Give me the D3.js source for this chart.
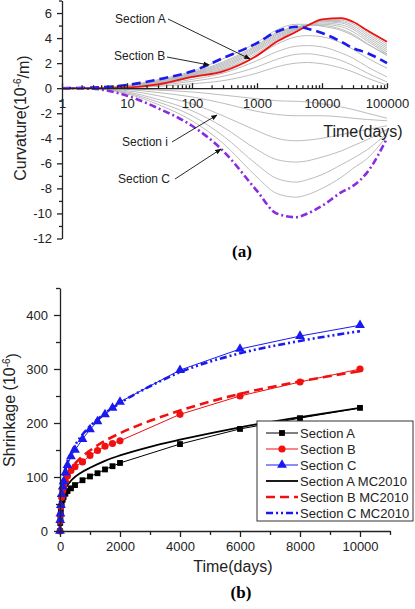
<!DOCTYPE html>
<html>
<head>
<meta charset="utf-8">
<script src="https://cdn.jsdelivr.net/npm/d3@7"></script>
<style>
body { margin: 0; background: #fff; }
svg { display: block; font-family: "Liberation Sans", Arial, sans-serif; }
.axis text { font-size: 13px; fill: #222; }
.axis path, .axis line { stroke: #222; stroke-width: 1.3px; }
</style>
</head>
<body>
<svg id="chart"></svg>
<script>
// ---- (a) curvature vs time, log x ----
var curvT = [1, 3, 10, 30, 100, 300, 1000, 2000, 4000, 6000, 10000, 20000, 30000, 50000, 100000];
var curvA = [0, 0, 0.05, 0.3, 0.9, 1.35, 2.6, 3.7, 4.5, 5.0, 5.5, 5.6, 5.3, 4.6, 3.7];
var curvB = [0, 0.05, 0.25, 0.7, 1.35, 2.4, 3.6, 4.5, 4.9, 4.75, 4.4, 3.7, 3.2, 2.8, 2.0];
var curvC = [0, -0.05, -0.6, -1.6, -3.0, -5.0, -8.2, -10.0, -10.3, -10.0, -9.4, -8.3, -7.8, -6.7, -4.0];
// intermediate sections (grey)
var curvI = [
  [0, 0, 0.06, 0.33, 0.95, 1.5, 2.8, 3.85, 4.6, 5.05, 5.45, 5.5, 5.3, 4.5, 3.5],
  [0, 0.01, 0.08, 0.38, 1.0, 1.6, 2.95, 3.95, 4.65, 5.05, 5.4, 5.4, 5.15, 4.35, 3.35],
  [0, 0.01, 0.1, 0.42, 1.05, 1.7, 3.05, 4.05, 4.7, 5.05, 5.35, 5.3, 5.0, 4.2, 3.2],
  [0, 0.02, 0.12, 0.46, 1.1, 1.8, 3.15, 4.15, 4.75, 5.05, 5.3, 5.2, 4.85, 4.05, 3.05],
  [0, 0.02, 0.14, 0.5, 1.15, 1.9, 3.25, 4.25, 4.8, 5.05, 5.2, 5.05, 4.7, 3.9, 2.9],
  [0, 0.03, 0.16, 0.55, 1.2, 2.0, 3.35, 4.35, 4.85, 5.05, 5.1, 4.9, 4.5, 3.75, 2.75],
  [0, 0.03, 0.18, 0.6, 1.25, 2.1, 3.45, 4.45, 4.9, 5.0, 5.0, 4.7, 4.3, 3.55, 2.6],
  [0, 0.04, 0.22, 0.68, 1.35, 2.35, 3.65, 4.65, 5.1, 5.1, 4.95, 4.6, 4.2, 3.5, 2.7],
  [0, 0.02, 0.1, 0.35, 0.85, 1.45, 2.6, 3.5, 4.1, 4.2, 4.1, 3.6, 3.1, 2.4, 1.6],
  [0, 0.02, 0.08, 0.3, 0.7, 1.2, 2.2, 2.9, 3.35, 3.4, 3.3, 2.8, 2.4, 1.7, 0.9],
  [0, 0.01, 0.06, 0.22, 0.55, 0.95, 1.7, 2.3, 2.7, 2.75, 2.6, 2.2, 1.8, 1.2, 0.5],
  [0, 0.01, 0.04, 0.15, 0.35, 0.6, 1.2, 1.7, 2.0, 2.05, 1.95, 1.6, 1.3, 0.8, 0.25],
  [0, -0.04, -0.45, -1.3, -2.6, -4.4, -7.1, -8.4, -8.7, -8.5, -8.0, -7.1, -6.4, -5.6, -3.8],
  [0, -0.03, -0.38, -1.1, -2.2, -3.8, -6.1, -7.2, -7.5, -7.3, -6.9, -6.1, -5.6, -4.9, -3.6],
  [0, -0.03, -0.3, -0.9, -1.8, -3.1, -4.9, -5.7, -5.9, -5.8, -5.5, -5.0, -4.6, -4.1, -3.3],
  [0, -0.02, -0.2, -0.6, -1.25, -2.2, -3.4, -4.0, -4.2, -4.15, -4.0, -3.7, -3.5, -3.3, -3.0],
  [0, -0.01, -0.1, -0.35, -0.7, -1.2, -1.85, -2.1, -2.2, -2.2, -2.2, -2.3, -2.4, -2.5, -2.6],
  [0, 0, -0.05, -0.15, -0.3, -0.55, -0.85, -1.0, -1.05, -1.1, -1.25, -1.5, -1.7, -2.0, -2.4]
];
var curvXTicks = [1, 10, 100, 1000, 10000, 100000];
var curvYTicks = [-12, -10, -8, -6, -4, -2, 0, 2, 4, 6];

// ---- (b) shrinkage vs time ----
var shrT = [0, 7, 14, 28, 56, 90, 120, 180, 250, 365, 500, 750, 1000, 1250, 1500, 1750, 2000, 4000, 6000, 8000, 10000];
var shrA = [0, 15, 24, 36, 50, 58, 63, 69, 74, 79, 85, 94, 101, 107, 114, 120, 126, 161, 189, 209, 228];
var shrB = [0, 18, 30, 45, 62, 74, 82, 92, 102, 112, 119, 128, 140, 149, 157, 162, 167, 216, 250, 276, 300];
var shrC = [0, 20, 32, 48, 68, 82, 92, 108, 122, 138, 150, 170, 188, 203, 216, 228, 239, 298, 337, 361, 381];
var mcT = [0, 3, 7, 14, 28, 56, 100, 200, 400, 700, 1000, 1500, 2000, 3000, 4000, 6000, 8000, 10000];
var mcA = [0, 12, 20, 29, 40, 53, 65, 80, 95, 108, 117, 130, 140, 156, 169, 192, 211, 228];
var mcB = [0, 14, 24, 34, 46, 62, 76, 96, 117, 136, 149, 167, 181, 204, 223, 254, 277, 296];
var mcC = [0, 18, 30, 43, 58, 76, 95, 120, 148, 175, 194, 218, 237, 268, 294, 329, 352, 370];
var legendLabels = ["Section A", "Section B", "Section C", "Section A MC2010", "Section B MC2010", "Section C MC2010"];

var width = 415, height = 609;
var svg = d3.select("#chart").attr("width", width).attr("height", height);

var defs = svg.append("defs");
defs.append("marker")
  .attr("id", "arrow")
  .attr("viewBox", "0 0 10 10")
  .attr("refX", 9).attr("refY", 5)
  .attr("markerWidth", 7).attr("markerHeight", 7)
  .attr("orient", "auto")
  .append("path")
  .attr("d", "M0,1 L10,5 L0,9 z")
  .attr("fill", "#111");

function zip(t, v) {
  return t.map(function(d, i) { return [d, v[i]]; });
}

// ================= (a) =================
var xa = d3.scaleLog().domain([1, 100000]).range([62, 387]);
var ya = d3.scaleLinear().domain([-12, 7]).range([238.5, 0.5]);
var lineA = d3.line()
  .x(function(d) { return xa(d[0]); })
  .y(function(d) { return ya(d[1]); })
  .curve(d3.curveMonotoneX);

var ga = svg.append("g");
ga.selectAll("path.grey")
  .data(curvI)
  .enter().append("path")
  .attr("class", "grey")
  .attr("d", function(v) { return lineA(zip(curvT, v)); })
  .attr("fill", "none")
  .attr("stroke", "#b4b4b4")
  .attr("stroke-width", 0.9);

ga.append("path")
  .attr("d", lineA(zip(curvA, curvA).map(function(d, i) { return [curvT[i], curvA[i]]; })))
  .attr("fill", "none").attr("stroke", "#f01010").attr("stroke-width", 1.8);
ga.append("path")
  .attr("d", lineA(zip(curvT, curvB)))
  .attr("fill", "none").attr("stroke", "#1a1aee").attr("stroke-width", 2.6)
  .attr("stroke-dasharray", "9,5");
ga.append("path")
  .attr("d", lineA(zip(curvT, curvC)))
  .attr("fill", "none").attr("stroke", "#8a2be2").attr("stroke-width", 2.6)
  .attr("stroke-dasharray", "7,3,2,3");

// axes (a)
var minorLog = xa.ticks().filter(function(d) { return curvXTicks.indexOf(d) < 0; });
ga.append("g").attr("class", "axis")
  .attr("transform", "translate(0," + ya(0) + ")")
  .call(d3.axisBottom(xa).tickValues(minorLog).tickSize(-3).tickSizeOuter(0).tickFormat(""))
  .select(".domain").remove();
ga.append("g").attr("class", "axis")
  .attr("transform", "translate(0," + ya(0) + ")")
  .call(d3.axisBottom(xa).tickValues(curvXTicks).tickSize(-5).tickSizeOuter(0).tickPadding(11)
    .tickFormat(function(d) { return String(d); }));

var oddY = d3.range(-11, 8, 2);
ga.append("g").attr("class", "axis")
  .attr("transform", "translate(62,0)")
  .call(d3.axisLeft(ya).tickValues(oddY).tickSize(3).tickFormat(""))
  .select(".domain").remove();
ga.append("g").attr("class", "axis")
  .attr("transform", "translate(62,0)")
  .call(d3.axisLeft(ya).tickValues(curvYTicks).tickSize(5).tickSizeOuter(0).tickPadding(5)
    .tickFormat(function(d) { return String(d); }));

var ylab = ga.append("text")
  .attr("transform", "translate(26,118) rotate(-90)")
  .attr("text-anchor", "middle")
  .style("font-size", "16px").style("fill", "#222");
ylab.append("tspan").text("Curvature(10");
ylab.append("tspan").attr("dy", "-0.5em").style("font-size", "10px").text("-6");
ylab.append("tspan").attr("dy", "0.5em").text("/m)");

ga.append("text")
  .attr("x", 363).attr("y", 137)
  .attr("text-anchor", "middle")
  .style("font-size", "16px").style("fill", "#222")
  .text("Time(days)");

// annotations
var notes = [
  { label: "Section A", tx: 115, ty: 23, from: [168, 19], to: [250, 59] },
  { label: "Section B", tx: 114, ty: 60, from: [167, 57], to: [209, 65] },
  { label: "Section i", tx: 122, ty: 146, from: [172, 142], to: [217, 115] },
  { label: "Section C", tx: 118, ty: 183, from: [175, 179], to: [221, 149] }
];
ga.selectAll("text.note")
  .data(notes)
  .enter().append("text")
  .attr("class", "note")
  .attr("x", function(d) { return d.tx; })
  .attr("y", function(d) { return d.ty; })
  .style("font-size", "12px").style("fill", "#222")
  .text(function(d) { return d.label; });
ga.selectAll("line.note")
  .data(notes)
  .enter().append("line")
  .attr("class", "note")
  .attr("x1", function(d) { return d.from[0]; })
  .attr("y1", function(d) { return d.from[1]; })
  .attr("x2", function(d) { return d.to[0]; })
  .attr("y2", function(d) { return d.to[1]; })
  .attr("stroke", "#111").attr("stroke-width", 0.9)
  .attr("marker-end", "url(#arrow)");

svg.append("text")
  .attr("x", 242).attr("y", 257)
  .attr("text-anchor", "middle")
  .style("font-family", "'Liberation Serif', 'Times New Roman', serif")
  .style("font-weight", "bold").style("font-size", "17px")
  .text("(a)");

// ================= (b) =================
var xb = d3.scaleLinear().domain([0, 11000]).range([60, 390]);
var yb = d3.scaleLinear().domain([0, 450]).range([531, 288]);
var gb = svg.append("g");

var lineB = d3.line()
  .x(function(d) { return xb(d[0]); })
  .y(function(d) { return yb(d[1]); });
var lineMC = d3.line()
  .x(function(d) { return xb(d[0]); })
  .y(function(d) { return yb(d[1]); })
  .curve(d3.curveMonotoneX);

var expSeries = [
  { v: shrA, color: "#000", sym: d3.symbolSquare, size: 34 },
  { v: shrB, color: "#f01010", sym: d3.symbolCircle, size: 40 },
  { v: shrC, color: "#1a1aee", sym: d3.symbolTriangle, size: 42 }
];
var mcSeries = [
  { v: mcA, color: "#000", dash: null, w: 1.8 },
  { v: mcB, color: "#f01010", dash: "9,5", w: 2.6 },
  { v: mcC, color: "#1a1aee", dash: "7,3,2,3,2,3", w: 2.6 }
];

expSeries.forEach(function(s) {
  gb.append("path")
    .attr("d", lineB(zip(shrT, s.v)))
    .attr("fill", "none").attr("stroke", s.color).attr("stroke-width", 1);
});
mcSeries.forEach(function(s) {
  gb.append("path")
    .attr("d", lineMC(zip(mcT, s.v)))
    .attr("fill", "none").attr("stroke", s.color).attr("stroke-width", s.w)
    .attr("stroke-dasharray", s.dash);
});
expSeries.forEach(function(s) {
  gb.append("g").selectAll("path")
    .data(zip(shrT, s.v))
    .enter().append("path")
    .attr("transform", function(d) { return "translate(" + xb(d[0]) + "," + yb(d[1]) + ")"; })
    .attr("d", d3.symbol().type(s.sym).size(s.size))
    .attr("fill", s.color);
});

// axes (b)
gb.append("g").attr("class", "axis")
  .attr("transform", "translate(0,531)")
  .call(d3.axisBottom(xb).tickValues(d3.range(1000, 11001, 2000)).tickSize(4).tickFormat(""))
  .select(".domain").remove();
gb.append("g").attr("class", "axis")
  .attr("transform", "translate(0,531)")
  .call(d3.axisBottom(xb).tickValues(d3.range(0, 10001, 2000)).tickSize(6).tickSizeOuter(0).tickPadding(5)
    .tickFormat(function(d) { return String(d); }));
gb.append("g").attr("class", "axis")
  .attr("transform", "translate(60,0)")
  .call(d3.axisLeft(yb).tickValues(d3.range(50, 451, 100)).tickSize(4).tickFormat(""))
  .select(".domain").remove();
gb.append("g").attr("class", "axis")
  .attr("transform", "translate(60,0)")
  .call(d3.axisLeft(yb).tickValues(d3.range(0, 401, 100)).tickSize(6).tickSizeOuter(0).tickPadding(6)
    .tickFormat(function(d) { return String(d); }));

var ylabB = gb.append("text")
  .attr("transform", "translate(15,410) rotate(-90)")
  .attr("text-anchor", "middle")
  .style("font-size", "16px").style("fill", "#222");
ylabB.append("tspan").text("Shrinkage (10");
ylabB.append("tspan").attr("dy", "-0.5em").style("font-size", "10px").text("-6");
ylabB.append("tspan").attr("dy", "0.5em").text(")");

gb.append("text")
  .attr("x", 233).attr("y", 572)
  .attr("text-anchor", "middle")
  .style("font-size", "16px").style("fill", "#222")
  .text("Time(days)");

// legend
var legend = gb.append("g").attr("transform", "translate(257,421)");
legend.append("rect")
  .attr("width", 156).attr("height", 100)
  .attr("fill", "#fff").attr("stroke", "#333").attr("stroke-width", 1);
var rows = legend.selectAll("g.row")
  .data(legendLabels)
  .enter().append("g")
  .attr("class", "row")
  .attr("transform", function(d, i) { return "translate(0," + (12 + i * 16) + ")"; });
rows.append("line")
  .attr("x1", 9).attr("x2", 41)
  .attr("stroke", function(d, i) { return i < 3 ? expSeries[i].color : mcSeries[i - 3].color; })
  .attr("stroke-width", function(d, i) { return i < 3 ? 1 : mcSeries[i - 3].w; })
  .attr("stroke-dasharray", function(d, i) { return i < 3 ? null : mcSeries[i - 3].dash; });
rows.filter(function(d, i) { return i < 3; })
  .append("path")
  .attr("transform", "translate(25,0)")
  .attr("d", function(d, i) { return d3.symbol().type(expSeries[i].sym).size(expSeries[i].size)(); })
  .attr("fill", function(d, i) { return expSeries[i].color; });
rows.append("text")
  .attr("x", 43).attr("y", 4.5)
  .style("font-size", "13px").style("fill", "#222")
  .text(function(d) { return d; });

svg.append("text")
  .attr("x", 241).attr("y", 598)
  .attr("text-anchor", "middle")
  .style("font-family", "'Liberation Serif', 'Times New Roman', serif")
  .style("font-weight", "bold").style("font-size", "17px")
  .text("(b)");
</script>
</body>
</html>
